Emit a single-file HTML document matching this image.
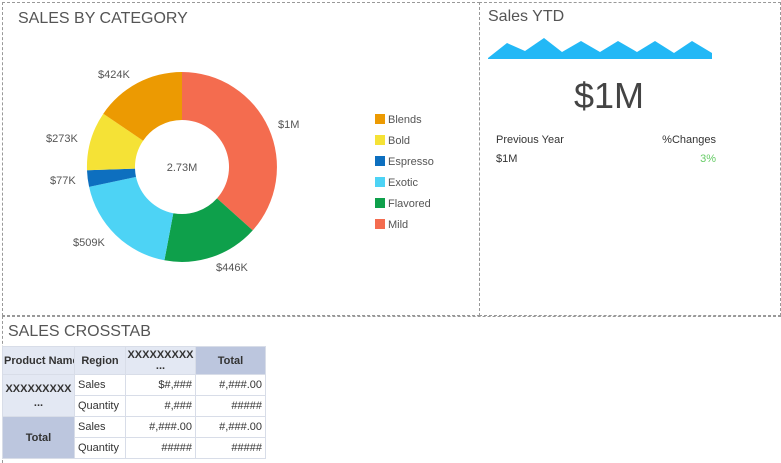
<!DOCTYPE html>
<html><head><meta charset="utf-8"><style>
body{margin:0;width:781px;height:463px;background:#fff;font-family:"Liberation Sans",Arial,sans-serif;position:relative;overflow:hidden;color:#444}
.p{position:absolute;border:1px dashed #999;box-sizing:border-box}
.t{position:absolute;font-size:16px;color:#555}
table{position:absolute;left:2px;top:346px;border-collapse:collapse;font-size:11px;table-layout:fixed;width:263px}
td{border:1px solid #d8dde8;padding:0 3px;height:21px;box-sizing:border-box;color:#333;overflow:hidden;white-space:nowrap}
.h{background:#e3e8f3;font-weight:bold;text-align:center}
.d{background:#bcc6de;font-weight:bold;text-align:center}
.r{text-align:right}
</style></head><body>
<div class="p" style="left:2px;top:2px;width:478px;height:314px"></div>
<div class="p" style="left:479px;top:2px;width:302px;height:314px"></div>
<div class="p" style="left:2px;top:316px;width:779px;height:147px;border-bottom:none;border-right:none"></div>
<div class="t" style="left:18px;top:10px">SALES BY CATEGORY</div>
<div class="t" style="left:488px;top:8px">Sales YTD</div>
<div class="t" style="left:8px;top:323px">SALES CROSSTAB</div>
<svg style="position:absolute;left:0;top:0" width="781" height="463" font-family="Liberation Sans, Arial, sans-serif" font-size="11" fill="#555">
<path d="M182,72 A95,95 0 0 1 252.7,230.4 L217,198.4 A47,47 0 0 0 182,120 Z" fill="#f46c4f"/>
<path d="M252.7,230.4 A95,95 0 0 1 164.4,260.3 L173.3,213.2 A47,47 0 0 0 217,198.4 Z" fill="#0ea04b"/>
<path d="M164.4,260.3 A95,95 0 0 1 89.1,186.9 L136,176.9 A47,47 0 0 0 173.3,213.2 Z" fill="#4dd3f5"/>
<path d="M89.1,186.9 A95,95 0 0 1 87,170.2 L135,168.6 A47,47 0 0 0 136,176.9 Z" fill="#0d6fbf"/>
<path d="M87,170.2 A95,95 0 0 1 103.3,113.7 L143.1,140.7 A47,47 0 0 0 135,168.6 Z" fill="#f5e236"/>
<path d="M103.3,113.7 A95,95 0 0 1 182,72 L182,120 A47,47 0 0 0 143.1,140.7 Z" fill="#ec9a02"/>
<text x="182" y="171" text-anchor="middle">2.73M</text>
<text x="98" y="78">$424K</text><text x="278" y="128">$1M</text>
<text x="46" y="142">$273K</text><text x="50" y="184">$77K</text>
<text x="73" y="246">$509K</text><text x="216" y="271">$446K</text>
<g><rect x="375" y="114" width="10" height="10" fill="#ec9a02"/><text x="388" y="123">Blends</text>
<rect x="375" y="135" width="10" height="10" fill="#f5e236"/><text x="388" y="144">Bold</text>
<rect x="375" y="156" width="10" height="10" fill="#0d6fbf"/><text x="388" y="165">Espresso</text>
<rect x="375" y="177" width="10" height="10" fill="#4dd3f5"/><text x="388" y="186">Exotic</text>
<rect x="375" y="198" width="10" height="10" fill="#0ea04b"/><text x="388" y="207">Flavored</text>
<rect x="375" y="219" width="10" height="10" fill="#f46c4f"/><text x="388" y="228">Mild</text></g>
<polygon points="488,59 488,58 507,43 525,51 544,38 562,52 581,41 600,52 618,41 637,52 655,41 674,53 692,41 712,53 712,59" fill="#22b8f6"/>
<text x="609" y="108" text-anchor="middle" font-size="36" fill="#444">$1M</text>
<text x="496" y="143" fill="#333">Previous Year</text>
<text x="716" y="143" text-anchor="end" fill="#333">%Changes</text>
<text x="496" y="162" fill="#333">$1M</text>
<text x="716" y="162" text-anchor="end" fill="#6c6">3%</text>
</svg>
<table>
<colgroup><col style="width:72px"><col style="width:51px"><col style="width:70px"><col style="width:70px"></colgroup>
<tr style="height:28px"><td class="h" style="padding:0 1px">Product Name</td><td class="h">Region</td><td class="h" style="line-height:11px;padding:0 1px">XXXXXXXXX<br>...</td><td class="d">Total</td></tr>
<tr><td class="h" rowspan="2" style="line-height:14px;padding:0 1px">XXXXXXXXX<br>...</td><td>Sales</td><td class="r">$#,###</td><td class="r">#,###.00</td></tr>
<tr><td>Quantity</td><td class="r">#,###</td><td class="r">#####</td></tr>
<tr><td class="d" rowspan="2">Total</td><td>Sales</td><td class="r">#,###.00</td><td class="r">#,###.00</td></tr>
<tr><td>Quantity</td><td class="r">#####</td><td class="r">#####</td></tr>
</table>
</body></html>
